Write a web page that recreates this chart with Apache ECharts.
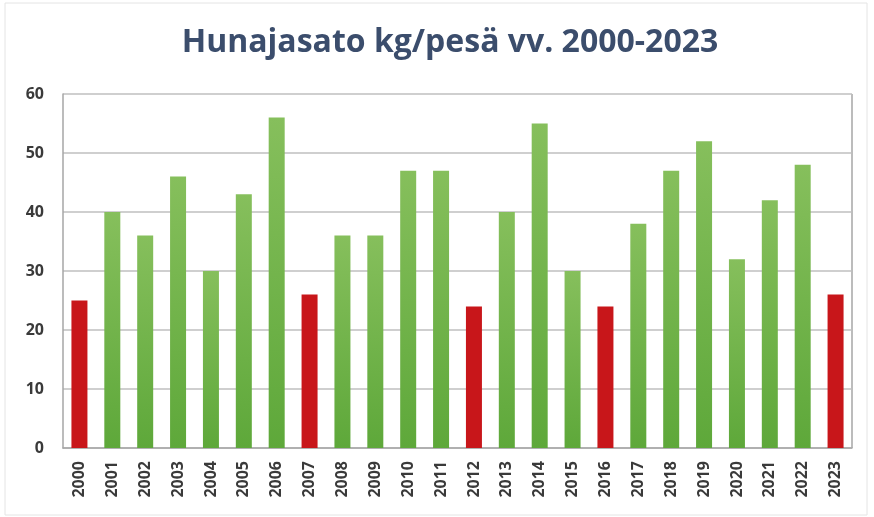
<!DOCTYPE html>
<html><head><meta charset="utf-8">
<script src="https://cdn.jsdelivr.net/npm/echarts@6/dist/echarts.min.js"></script>
<style>html,body{margin:0;padding:0;background:#fff}#c{width:874px;height:517px}</style>
</head><body><div id="c"></div>
<script>
const years = ['2000','2001','2002','2003','2004','2005','2006','2007','2008','2009','2010','2011','2012','2013','2014','2015','2016','2017','2018','2019','2020','2021','2022','2023'];
const values = [25,40,36,46,30,43,56,26,36,36,47,47,24,40,55,30,24,38,47,52,32,42,48,26];
const poorYears = ['2000','2007','2012','2016','2023'];
const yTicks = [0,10,20,30,40,50,60];

const green = new echarts.graphic.LinearGradient(0,0,0,1,[{offset:0,color:'#86bf5c'},{offset:1,color:'#5ea83a'}]);
const red = '#c8161a';
const chart = echarts.init(document.getElementById('c'));
chart.setOption({
  animation:false,
  title:{text:'Hunajasato kg/pesä vv. 2000-2023',left:445,textAlign:'center',top:22,
    textStyle:{fontFamily:'Open Sans',fontWeight:'bold',fontSize:32,color:'#3b4d6c'}},
  grid:{left:63,right:22,top:94,bottom:69},
  xAxis:{type:'category',data:years,
    axisLine:{lineStyle:{color:'#a6a6a6',width:1.5}},
    axisTick:{show:false},
    axisLabel:{rotate:90,interval:0,fontFamily:'Open Sans',fontWeight:'bold',fontSize:16,color:'#3a3a3a',margin:13}},
  yAxis:{type:'value',min:0,max:60,interval:10,
    axisLine:{show:true,lineStyle:{color:'#a6a6a6',width:1.5}},
    splitLine:{lineStyle:{color:'#bfbfbf',width:1.5}},
    axisLabel:{fontFamily:'Open Sans',fontWeight:'bold',fontSize:16,color:'#3a3a3a',margin:19,
      formatter:v=>yTicks.includes(v)?String(v):''}},
  series:[{type:'bar',barWidth:16,
    data:values.map((v,i)=>({value:v,itemStyle:{color:poorYears.includes(years[i])?red:green}}))}],
  graphic:[{type:'rect',shape:{x:5,y:3,width:862,height:512},style:{fill:'none',stroke:'#e4e4e4',lineWidth:1},silent:true},
    {type:'line',shape:{x1:852,y1:94,x2:852,y2:448},style:{stroke:'#a6a6a6',lineWidth:1.5},silent:true}]
});
</script></body></html>
